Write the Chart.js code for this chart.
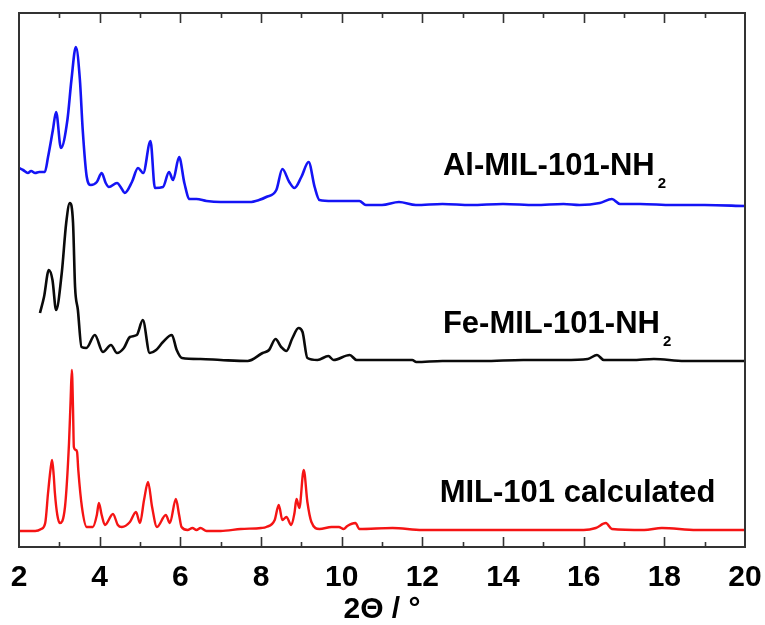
<!DOCTYPE html>
<html>
<head>
<meta charset="utf-8">
<title>MIL-101 XRD patterns</title>
<script src="https://cdn.jsdelivr.net/npm/chart.js@4.4.1/dist/chart.umd.min.js"></script>
<style>
    html, body { margin: 0; padding: 0; background: #ffffff; }
    #xrdChart { display: block; }
</style>
</head>
<body>
<canvas id="xrdChart" width="765" height="625"></canvas>
<script>
/**
 * Powder XRD patterns, 2-theta 2..20 deg, stacked with vertical offsets.
 * Intensities are arbitrary units.
 */

// x axis tick labels
const xTicks = [2, 4, 6, 8, 10, 12, 14, 16, 18, 20];

// stacking offsets (arbitrary units) for each pattern
const offsetAl = 342;
const offsetFe = 187;
const offsetCalc = 16;

// Al-MIL-101-NH2 (blue)
const alAngle = [2.0, 2.1, 2.22, 2.3, 2.4, 2.5, 2.64, 2.72, 2.84, 2.92, 3.04, 3.2, 3.3, 3.41, 3.51, 3.58, 3.68, 3.78, 3.93,
    4.05, 4.15, 4.23, 4.43, 4.55, 4.62, 4.8, 4.95, 5.08, 5.26, 5.37, 5.57, 5.72, 5.82, 5.97, 6.1, 6.23, 6.4, 6.65,
    7.0, 7.3, 7.72, 7.95, 8.13, 8.38, 8.53, 8.7, 8.83, 9.0, 9.18, 9.33, 9.45, 9.77, 10.1, 10.44, 10.6, 11.0, 11.42,
    11.84, 12.5, 13.2, 14.0, 14.8, 15.5, 15.9, 16.4, 16.7, 16.9, 17.4, 18.2, 19.0, 20.0];
const alIntensity = [37, 35, 32, 34, 32, 33, 33, 48, 75, 93, 57, 85, 125, 158, 125, 75, 28, 20, 23,
    32, 22, 18, 22, 16, 12, 23, 37, 32, 64, 17, 18, 33, 25, 48, 22, 6, 6, 4,
    3, 3, 3, 5, 8, 15, 36, 23, 17, 28, 43, 18, 5, 4, 4, 4, 0, 0, 3,
    0, 1, 0, 1, 0, 1, 0, 2, 6, 1, 1, 0, 0, -1];

// Fe-MIL-101-NH2 (black)
const feAngle = [2.52, 2.62, 2.74, 2.83, 2.92, 3.06, 3.17, 3.26, 3.34, 3.39, 3.46, 3.55, 3.67, 3.88, 4.08, 4.28, 4.43,
    4.6, 4.75, 4.92, 5.07, 5.24, 5.4, 5.57, 5.79, 5.91, 6.04, 6.5, 7.0, 7.67, 8.04, 8.2, 8.36, 8.5, 8.63, 8.78,
    8.93, 9.03, 9.15, 9.4, 9.67, 9.8, 10.2, 10.37, 11.0, 11.75, 11.85, 12.5, 13.5, 14.5, 15.5, 16.1, 16.33,
    16.5, 17.2, 17.74, 18.5, 19.3, 20.0];
const feIntensity = [47, 63, 90, 80, 50, 87, 137, 157, 137, 73, 50, 13, 12, 25, 8, 15, 7,
    12, 23, 25, 40, 7, 10, 18, 25, 10, 2, 1, 0, -1, 7, 10, 21, 13, 9, 22,
    32, 28, 2, 0, 4, 0, 5, 0, 0, 0, -2, -1, -1, 0, 0, 1, 5,
    0, 0, 1, -1, -1, -1];

// MIL-101 calculated (red)
const calcAngle = [2.0, 2.4, 2.55, 2.65, 2.72, 2.78, 2.82, 2.86, 2.89, 2.95, 3.01, 3.14, 3.24, 3.28, 3.31, 3.34, 3.36,
    3.41, 3.44, 3.47, 3.56, 3.68, 3.83, 3.93, 3.98, 4.05, 4.13, 4.33, 4.45, 4.55, 4.75, 4.9, 5.0, 5.1, 5.2, 5.3,
    5.42, 5.64, 5.74, 5.89, 5.97, 6.03, 6.18, 6.3, 6.4, 6.5, 6.65, 7.0, 7.5, 8.0, 8.13, 8.34, 8.44, 8.53, 8.63,
    8.75, 8.83, 8.88, 8.95, 9.06, 9.15, 9.25, 9.45, 9.75, 9.93, 10.05, 10.14, 10.34, 10.44, 11.26, 12.0, 13.0,
    14.0, 15.0, 16.0, 16.3, 16.55, 16.7, 17.5, 17.94, 18.8, 20.0];
const calcIntensity = [0, 0, 2, 8, 38, 61, 71, 56, 38, 16, 8, 24, 88, 131, 161, 121, 84,
    81, 79, 61, 24, 4, 4, 16, 28, 16, 6, 17, 6, 4, 9, 19, 8, 31, 49, 24,
    4, 16, 8, 32, 16, 4, 1, 3, 1, 3, 0, 0, 2, 3, 4, 11, 26, 11, 14,
    6, 18, 32, 23, 61, 29, 9, 2, 4, 4, 2, 5, 8, 2, 3, 1, 1,
    1, 1, 1, 3, 8, 2, 1, 3, 1, 1];

/**
 * Combine angle and intensity arrays into {x, y} points with a vertical offset
 */
function toPoints(angles, values, offset) {
    return angles.map(function(a, i) {
        return { x: a, y: values[i] + offset };
    });
}

const fontFamily = "'Liberation Sans', Arial, sans-serif";

/**
 * Frame around the plot plus inward tick marks on top and bottom edges,
 * and the series name annotations.
 */
const framePlugin = {
    id: 'frame',
    afterDatasetsDraw(chart) {
        const ctx = chart.ctx;
        const area = chart.chartArea;
        const xs = chart.scales.x;
        const ys = chart.scales.y;

        ctx.save();
        ctx.strokeStyle = '#333333';
        ctx.lineWidth = 2;
        ctx.strokeRect(area.left, area.top, area.right - area.left, area.bottom - area.top);

        // major ticks every 2 deg, minor ticks in between
        ctx.lineWidth = 1.6;
        for (let v = 3; v < 20; v++) {
            const px = Math.round(xs.getPixelForValue(v)) + 0.5;
            const len = (v % 2 === 0) ? 10 : 5;
            ctx.beginPath();
            ctx.moveTo(px, area.bottom);
            ctx.lineTo(px, area.bottom - len);
            ctx.moveTo(px, area.top);
            ctx.lineTo(px, area.top + len);
            ctx.stroke();
        }

        // series labels with subscripts
        const labels = [
            { text: 'Al-MIL-101-NH', sub: '2', x: 12.51, y: 372 },
            { text: 'Fe-MIL-101-NH', sub: '2', x: 12.51, y: 214 },
            { text: 'MIL-101 calculated', sub: '', x: 12.43, y: 45 }
        ];
        ctx.fillStyle = '#000000';
        ctx.textBaseline = 'alphabetic';
        ctx.textAlign = 'left';
        labels.forEach(function(l) {
            const px = xs.getPixelForValue(l.x);
            const py = ys.getPixelForValue(l.y);
            ctx.font = 'bold 31px ' + fontFamily;
            ctx.fillText(l.text, px, py);
            if (l.sub) {
                const w = ctx.measureText(l.text).width;
                ctx.font = 'bold 15px ' + fontFamily;
                ctx.fillText(l.sub, px + w + 3, py + 13);
            }
        });
        ctx.restore();
    }
};

const ctx = document.getElementById('xrdChart');

new Chart(ctx, {
    type: 'line',
    data: {
        datasets: [
            {
                label: 'Al-MIL-101-NH2',
                data: toPoints(alAngle, alIntensity, offsetAl),
                borderColor: '#1414f5',
                borderWidth: 2.6
            },
            {
                label: 'Fe-MIL-101-NH2',
                data: toPoints(feAngle, feIntensity, offsetFe),
                borderColor: '#0a0a0a',
                borderWidth: 2.6
            },
            {
                label: 'MIL-101 calculated',
                data: toPoints(calcAngle, calcIntensity, offsetCalc),
                borderColor: '#f51414',
                borderWidth: 2.4
            }
        ]
    },
    options: {
        responsive: false,
        animation: false,
        devicePixelRatio: 1,
        layout: {
            padding: { left: 19, right: 20, top: 13, bottom: 0 }
        },
        elements: {
            point: { radius: 0 },
            line: { tension: 0, cubicInterpolationMode: 'monotone', fill: false }
        },
        plugins: {
            legend: { display: false },
            tooltip: { enabled: false }
        },
        scales: {
            x: {
                type: 'linear',
                min: 2,
                max: 20,
                afterBuildTicks: function(scale) {
                    scale.ticks = xTicks.map(function(v) { return { value: v }; });
                },
                afterFit: function(scale) {
                    // keep the plot box fixed: labels may overhang into the page padding
                    scale.paddingLeft = 0;
                    scale.paddingRight = 0;
                    scale.height = 78;
                },
                ticks: {
                    autoSkip: false,
                    maxRotation: 0,
                    padding: 16,
                    color: '#000000',
                    font: { family: fontFamily, size: 30, weight: 'bold', lineHeight: 1 }
                },
                grid: { display: false, drawTicks: false },
                border: { display: false },
                title: {
                    display: true,
                    text: '2\u0398 / \u00b0',
                    color: '#000000',
                    padding: { top: 4, bottom: 0 },
                    font: { family: fontFamily, size: 30, weight: 'bold', lineHeight: 1 }
                }
            },
            y: {
                type: 'linear',
                display: false,
                min: 0,
                max: 534
            }
        }
    },
    plugins: [framePlugin]
});
</script>
</body>
</html>
